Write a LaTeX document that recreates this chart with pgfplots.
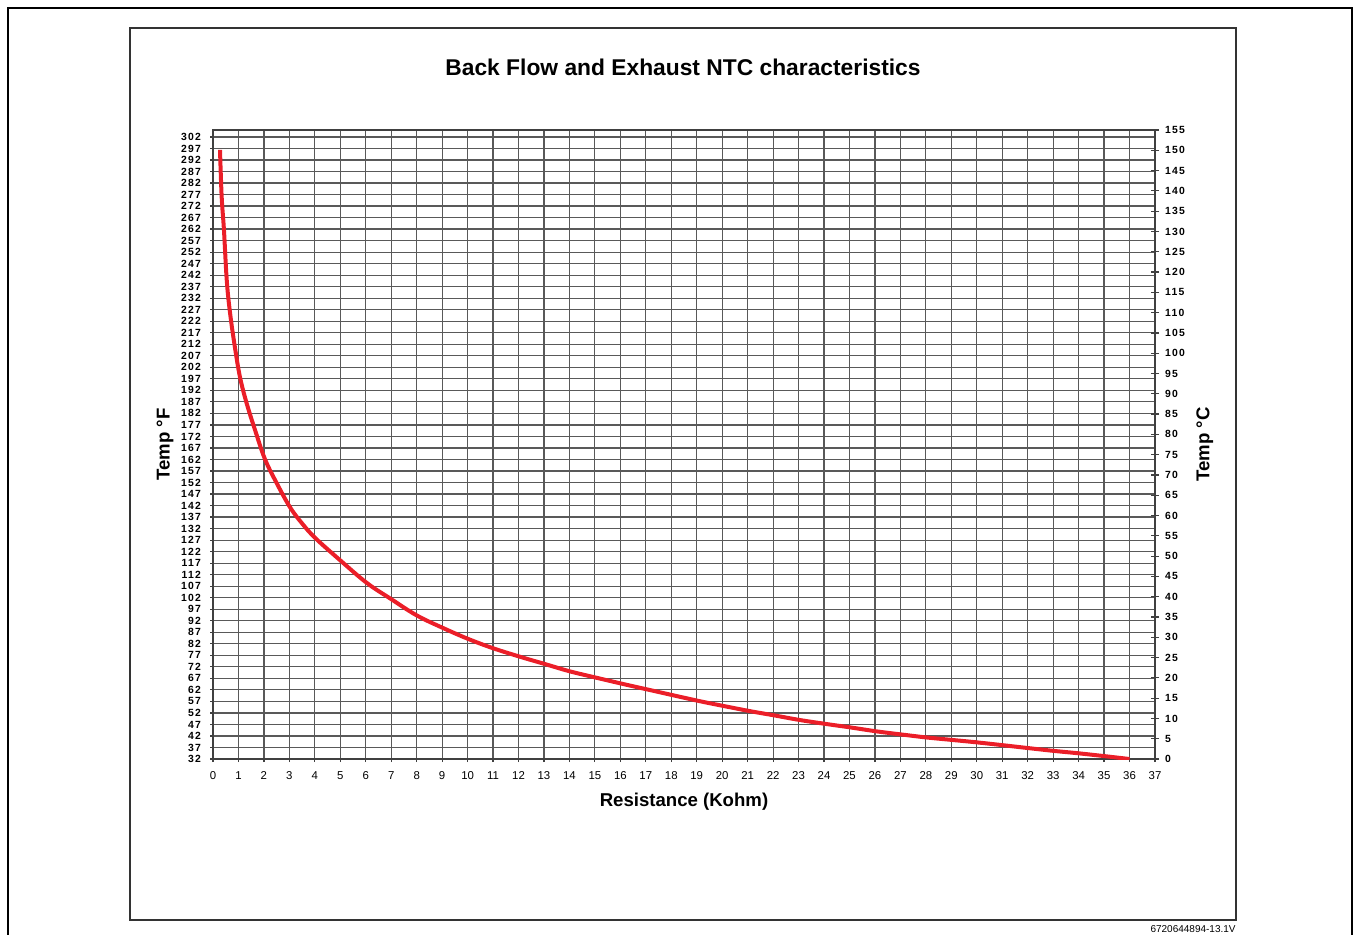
\documentclass[border=0pt]{standalone}
\usepackage{fontspec}
\setmainfont{Liberation Sans}
\newfontfamily\tickfont[LetterSpace=12]{Liberation Sans}
\usepackage{pgfplots}
\pgfplotsset{compat=1.18}
\definecolor{curvered}{RGB}{235,30,40}
\begin{document}
\begin{tikzpicture}
\useasboundingbox (0,0) rectangle (678pt,-467pt);
\draw[line width=1pt] (4pt,-470pt) -- (4pt,-4pt) -- (676pt,-4pt) -- (676pt,-470pt);
\draw[line width=0.7pt, black!80] (65pt,-14pt) rectangle (618pt,-460pt);
\node[font=\bfseries\fontsize{11.4}{13}\selectfont] at (341.5pt,-33.5pt) {Back Flow and Exhaust NTC characteristics};
\node[font=\fontsize{5}{6}\selectfont, anchor=east, inner sep=0pt] at (618pt,-464.5pt) {6720644894-13.1V};

\begin{axis}[
 at={(106.5pt,-379.5pt)}, anchor=south west,
 width=471pt, height=314.5pt, scale only axis,
 xmin=0, xmax=37, ymin=32, ymax=305,
 xtick={0,1,...,37}, ytick={32,37,...,302},
 xtick pos=left, ytick pos=left,
 grid=major, grid style={black!65, line width=0.6pt},
 axis line style={black!75, line width=0.7pt},
 tick style={black!75, line width=0.6pt},
 tick align=outside, major tick length=1.5pt,
 /pgf/number format/assume math mode=true,
 xticklabel style={font=\fontsize{5.7}{6}\selectfont, yshift=-1.2pt},
 yticklabel style={font=\tickfont\bfseries\fontsize{5.2}{6}\selectfont, xshift=-1pt},
 xlabel={Resistance (Kohm)}, ylabel={Temp °F},
 xlabel style={at={(axis description cs:0.5,-0.068)}, anchor=center, font=\bfseries\fontsize{9.3}{11}\selectfont},
 ylabel style={at={(axis description cs:-0.051,0.5)}, anchor=center, font=\bfseries\fontsize{9.3}{11}\selectfont},
]
\end{axis}

\begin{axis}[
 at={(106.5pt,-379.5pt)}, anchor=south west,
 width=471pt, height=314.5pt, scale only axis,
 xmin=0, xmax=37, ymin=0, ymax=155,
 axis x line=none, axis y line*=right,
 ytick={0,5,...,155},
 tick align=center, major tick length=4pt,
 axis line style={black!75, line width=0.7pt},
 tick style={black!75, line width=0.6pt},
 /pgf/number format/assume math mode=true,
 yticklabel style={font=\tickfont\bfseries\fontsize{5.2}{6}\selectfont, anchor=west, xshift=-0.5pt},
 ylabel={Temp °C},
 ylabel style={at={(axis description cs:1.053,0.5)}, anchor=center, font=\bfseries\fontsize{9.3}{11}\selectfont},
]
\addplot[curvered, line width=2pt, smooth, tension=0.6] coordinates {
(0.275,150.1) (0.34,138.6) (0.43,130.4) (0.54,118.0) (0.67,109.9)
(0.86,101.5) (1.06,94.1) (1.32,87.7) (1.65,81.1) (2.04,73.9)
(2.50,68.0) (3.02,62.1) (3.48,58.2) (4.01,54.5) (4.99,49.0)
(6.04,43.4) (6.95,39.6) (8.00,35.4) (9.03,32.3) (10.02,29.6)
(11.00,27.3) (12.06,25.2) (13.04,23.4) (14.02,21.6) (15.08,20.0)
(16.10,18.5) (17.16,17.0) (19.01,14.4) (20.03,13.1) (21.09,11.8)
(22.0,10.8) (23.06,9.6) (24.12,8.6) (25.02,7.8) (26.08,6.8)
(27.1,6.0) (28.04,5.3) (29.03,4.7) (30.01,4.1) (31.03,3.4)
(32.01,2.7) (33.03,2.0) (34.01,1.4) (35.03,0.7) (36.0,0.0)
};
\end{axis}
\end{tikzpicture}
\end{document}
